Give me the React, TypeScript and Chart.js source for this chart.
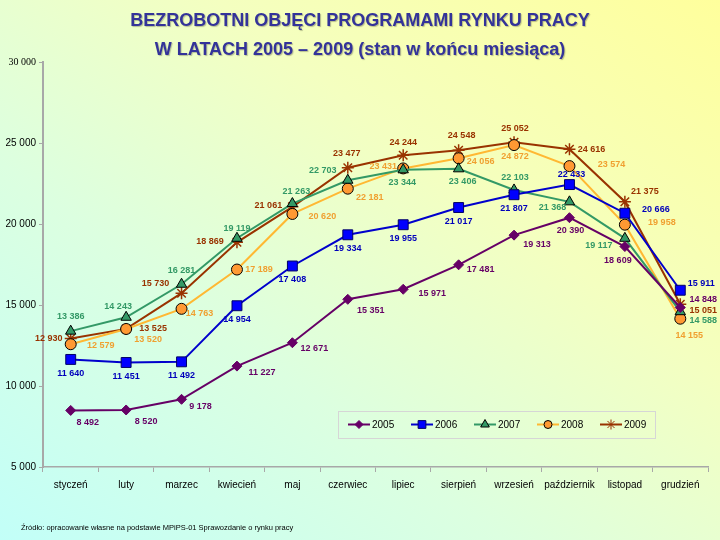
import React, { useEffect, useRef } from 'react';
import { Chart, registerables } from 'chart.js';
import { drawPoint } from 'chart.js/helpers';

Chart.register(...registerables);

// ---------- data ----------
const MONTHS = ['styczeń', 'luty', 'marzec', 'kwiecień', 'maj', 'czerwiec', 'lipiec', 'sierpień', 'wrzesień', 'październik', 'listopad', 'grudzień'];
const YEARS = ['2005', '2006', '2007', '2008', '2009'];
const Y2005 = [8492, 8520, 9178, 11227, 12671, 15351, 15971, 17481, 19313, 20390, 18609, 14848];
const Y2006 = [11640, 11451, 11492, 14954, 17408, 19334, 19955, 21017, 21807, 22433, 20666, 15911];
const Y2007 = [13386, 14243, 16281, 19119, 21263, 22703, 23344, 23406, 22103, 21368, 19117, 14588];
const Y2008 = [12579, 13520, 14763, 17189, 20620, 22181, 23431, 24056, 24872, 23574, 19958, 14155];
const Y2009 = [12930, 13525, 15730, 18869, 21061, 23477, 24244, 24548, 25052, 24616, 21375, 15051];
const Y_MIN = 5000;
const Y_MAX = 30000;
const Y_STEP = 5000;

// ---------- styling ----------
const LINE_COLORS = ['#660066', '#0000cc', '#339966', '#ffb833', '#993300'];
const POINT_FILLS = ['#660066', '#0000ff', '#339966', '#ff9933', '#993300'];
const POINT_BORDERS = ['#660066', '#000066', '#000000', '#000000', '#993300'];
const POINT_STYLES = ['rectRot', 'rect', 'triangle', 'circle', 'star'];
const POINT_RADII = [5, 7, 6, 5.5, 6];
const LEGEND_RADII = [4, 5.5, 5, 4, 5];
const LABEL_COLORS = ['#660066', '#0000bb', '#339966', '#f0a030', '#993300'];

// label offsets (dx, dy) from each point, in px
const OFF_2005 = [[17, 12], [20, 12], [19, 7], [25, 6], [22, 6], [23, 11], [29, 4], [22, 5], [23, 9], [1, 13], [-7, 14], [23, -8]];
const OFF_2006 = [[0, 14], [0, 14], [0, 14], [0, 14], [0, 14], [0, 14], [0, 14], [0, 14], [0, 14], [2, -10], [31, -4], [21, -7]];
const OFF_2007 = [[0, -15], [-8, -11], [0, -14], [0, -10], [4, -12], [-25, -10], [-1, 13], [4, 13], [1, -12], [-17, 6], [-26, 7], [23, 9]];
const OFF_2008 = [[30, 1], [22, 11], [18, 5], [22, 0], [30, 3], [22, 9], [-20, -2], [22, 3], [1, 11], [42, -2], [37, -2], [9, 17]];
const OFF_2009 = [[-22, 0], [27, 0], [-26, -10], [-27, -1], [-24, -1], [-1, -14], [0, -13], [3, -15], [1, -14], [22, 0], [20, -10], [23, 6]];
const LABEL_OFFSETS = [OFF_2005, OFF_2006, OFF_2007, OFF_2008, OFF_2009];

const FONT = 'Arial, "Liberation Sans", sans-serif';

const fmt = (v: number) => String(Math.round(v)).replace(/\B(?=(\d{3})+(?!\d))/g, ' ');

const labelPlugin = {
  id: 'pointLabels',
  afterDatasetsDraw(chart: any) {
    const ctx = chart.ctx;
    ctx.save();
    ctx.font = `bold 9px ${FONT}`;
    ctx.textAlign = 'center';
    ctx.textBaseline = 'middle';
    chart.data.datasets.forEach((ds: any, di: number) => {
      const meta = chart.getDatasetMeta(di);
      meta.data.forEach((pt: any, i: number) => {
        const [dx, dy] = LABEL_OFFSETS[di][i];
        ctx.fillStyle = LABEL_COLORS[di];
        ctx.fillText(fmt(ds.data[i]), pt.x + dx, pt.y + dy);
      });
    });
    ctx.restore();
  },
};

const legendPlugin = {
  id: 'boxLegend',
  afterDraw(chart: any) {
    const ctx = chart.ctx;
    const bx = 338, by = 411, bw = 317, bh = 27;
    ctx.save();
    ctx.strokeStyle = '#d6d6d6';
    ctx.lineWidth = 1;
    ctx.strokeRect(bx + 0.5, by + 0.5, bw, bh);
    const y = 424.5;
    chart.data.datasets.forEach((ds: any, i: number) => {
      const x0 = 348 + i * 63;
      ctx.strokeStyle = ds.borderColor;
      ctx.lineWidth = 2;
      ctx.beginPath();
      ctx.moveTo(x0, y);
      ctx.lineTo(x0 + 22, y);
      ctx.stroke();
      ctx.fillStyle = ds.pointBackgroundColor;
      ctx.strokeStyle = ds.pointBorderColor;
      ctx.lineWidth = 1;
      drawPoint(ctx, { pointStyle: ds.pointStyle, radius: LEGEND_RADII[i], rotation: 0, borderWidth: 1 } as any, x0 + 11, y);
      ctx.fillStyle = '#000';
      ctx.font = `10px ${FONT}`;
      ctx.textAlign = 'left';
      ctx.textBaseline = 'middle';
      ctx.fillText(ds.label, x0 + 24, y + 0.5);
    });
    ctx.restore();
  },
};

export default function App() {
  const ref = useRef<HTMLCanvasElement | null>(null);

  useEffect(() => {
    if (!ref.current) return;
    const series = [Y2005, Y2006, Y2007, Y2008, Y2009];
    const chart = new Chart(ref.current, {
      type: 'line',
      data: {
        labels: MONTHS,
        datasets: series.map((d, i) => ({
          label: YEARS[i],
          data: d,
          borderColor: LINE_COLORS[i],
          backgroundColor: LINE_COLORS[i],
          borderWidth: 2,
          tension: 0,
          pointStyle: POINT_STYLES[i] as any,
          pointRadius: POINT_RADII[i],
          pointHoverRadius: POINT_RADII[i],
          pointBackgroundColor: POINT_FILLS[i],
          pointBorderColor: POINT_BORDERS[i],
          pointBorderWidth: i === 4 ? 1.5 : 1,
          fill: false,
        })),
      },
      options: {
        animation: false,
        responsive: false,
        devicePixelRatio: 1,
        layout: { padding: { top: 62, right: 12, bottom: 43, left: 0 } },
        plugins: {
          legend: { display: false },
          title: { display: false },
          tooltip: { enabled: false },
        },
        scales: {
          x: {
            offset: true,
            grid: { offset: true, drawOnChartArea: false, drawTicks: true, tickLength: 5, color: '#a8a8a8' },
            border: { display: true, color: '#a8a8a8', width: 1.5 },
            ticks: { color: '#000', font: { family: FONT, size: 10 }, padding: 7, maxRotation: 0, autoSkip: false },
            afterFit: (s: any) => { s.height = 30; },
          },
          y: {
            min: Y_MIN,
            max: Y_MAX,
            grid: { drawOnChartArea: false, drawTicks: true, tickLength: 4, color: '#a8a8a8' },
            border: { display: true, color: '#a8a8a8', width: 2 },
            ticks: {
              stepSize: Y_STEP,
              color: '#000',
              padding: 3,
              font: (c: any) => (c.tick && c.tick.value === Y_MAX
                ? { family: '"Liberation Serif", serif', size: 10 }
                : { family: FONT, size: 10 }),
              callback: (v: any) => fmt(Number(v)),
            },
            afterFit: (s: any) => { s.width = 43; },
          },
        },
      },
      plugins: [labelPlugin, legendPlugin],
    });
    return () => chart.destroy();
  }, []);

  const titleStyle: React.CSSProperties = {
    position: 'absolute',
    left: 0,
    width: 720,
    textAlign: 'center',
    fontFamily: FONT,
    fontWeight: 'bold',
    fontSize: 18,
    lineHeight: '20px',
    color: '#333399',
    textShadow: '1px 1px 1px rgba(0,0,0,0.25)',
    whiteSpace: 'nowrap',
  };

  return (
    <div
      style={{
        position: 'absolute',
        left: 0,
        top: 0,
        width: 720,
        height: 540,
        overflow: 'hidden',
        background: 'linear-gradient(to top right, #c2fff8 0%, #dcffe0 35%, #f4ffc0 65%, #ffff9c 100%)',
      }}
    >
      <canvas ref={ref} width={720} height={540} style={{ position: 'absolute', left: 0, top: 0, width: 720, height: 540 }} />
      <div style={{ ...titleStyle, top: 10 }}>BEZROBOTNI OBJĘCI PROGRAMAMI RYNKU PRACY</div>
      <div style={{ ...titleStyle, top: 39 }}>W LATACH 2005 – 2009 (stan w końcu miesiąca)</div>
      <div
        style={{
          position: 'absolute',
          left: 21,
          top: 523,
          fontFamily: FONT,
          fontSize: 7.5,
          lineHeight: '10px',
          color: '#000',
          whiteSpace: 'nowrap',
        }}
      >
        Źródło: opracowanie własne na podstawie MPiPS-01 Sprawozdanie o rynku pracy
      </div>
    </div>
  );
}
